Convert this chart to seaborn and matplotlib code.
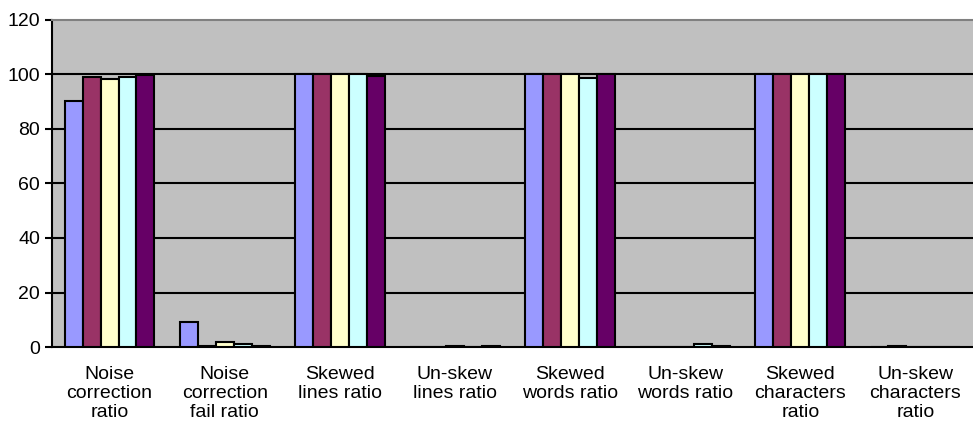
import numpy as np
import pandas as pd
import matplotlib
matplotlib.use("Agg")
import matplotlib.pyplot as plt
import seaborn as sns

categories = ["Noise\ncorrection\nratio", "Noise\ncorrection\nfail ratio",
              "Skewed\nlines ratio", "Un-skew\nlines ratio",
              "Skewed\nwords ratio", "Un-skew\nwords ratio",
              "Skewed\ncharacters\nratio", "Un-skew\ncharacters\nratio"]
series = ["S1", "S2", "S3", "S4", "S5"]

s1 = [90.2, 9.1, 100, 0, 100, 0, 100, 0]
s2 = [99.2, 0.5, 100, 0, 100, 0, 100, 0.5]
s3 = [98.5, 1.8, 100, 0.5, 100, 0, 100, 0]
s4 = [99.0, 1.2, 100, 0, 98.8, 1.2, 100, 0]
s5 = [99.8, 0.5, 99.3, 0.5, 100, 0.5, 100, 0]

colors = ["#9999FF", "#993366", "#FFFFCC", "#CCFFFF", "#660066"]

df = pd.DataFrame({
    "category": categories * 5,
    "series": np.repeat(series, len(categories)),
    "value": s1 + s2 + s3 + s4 + s5,
})

sns.set_style("white")
plt.rcParams['font.family'] = ['Liberation Sans', 'DejaVu Sans']
plt.rcParams['text.color'] = 'black'
plt.rcParams['xtick.color'] = 'black'
plt.rcParams['ytick.color'] = 'black'

fig = plt.figure(figsize=(9.73, 4.25), dpi=100)
ax = fig.add_axes([0.0534, 0.1835, 0.9466, 0.7695])
ax.set_facecolor("#C0C0C0")

sns.barplot(data=df, x="category", y="value", hue="series", palette=colors,
            width=0.78, edgecolor="black", linewidth=1.5, legend=False,
            errorbar=None, ax=ax, zorder=3, saturation=1)

ax.set_ylim(0, 120)
ax.set_xlim(-0.5, 7.5)
ax.set_yticks(range(0, 121, 20))
for y in range(20, 101, 20):
    ax.axhline(y, color="black", lw=1.5, zorder=1)

ax.set_xlabel("")
ax.set_ylabel("")
ax.tick_params(axis="x", which="major", length=0, labelsize=14, pad=14,
               labelcolor="black")
ax.set_xticks(np.arange(-0.5, 8, 1), minor=True)
ax.tick_params(axis="x", which="minor", length=5, width=1.5, color="black", direction="out")
ax.tick_params(axis="y", length=5, width=1.5, color="black", direction="out",
               labelsize=14, left=True, labelcolor="black")
for lab in ax.get_xticklabels():
    lab.set_linespacing(1.15)

ax.spines["left"].set_color("black")
ax.spines["left"].set_linewidth(1.5)
ax.spines["bottom"].set_color("black")
ax.spines["bottom"].set_linewidth(1.5)
ax.spines["top"].set_color("#808080")
ax.spines["top"].set_linewidth(1.5)
ax.spines["right"].set_visible(False)

fig.savefig("out.png", dpi=100)
